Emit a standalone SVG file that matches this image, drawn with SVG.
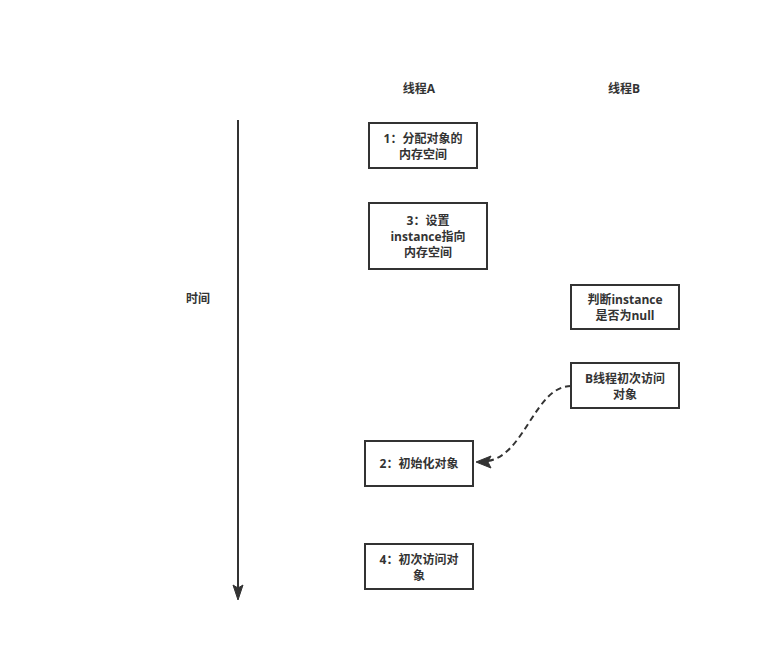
<svg xmlns="http://www.w3.org/2000/svg" width="767" height="660" viewBox="0 0 767 660">
<style>
.box{fill:#fff;stroke:#333;stroke-width:2}
text{font-family:"Open Sans","Noto Sans CJK SC",sans-serif;font-size:12px;font-weight:bold;fill:#333;text-anchor:middle}
.conn{fill:none;stroke:#333;stroke-width:2}
.head{fill:#333;stroke:#333;stroke-width:1;stroke-linejoin:miter}
</style>
<rect width="767" height="660" fill="#fff"/>
<text x="419" y="93">线程A</text>
<text x="624" y="93">线程B</text>
<text x="198" y="303">时间</text>
<g id="connectors">
<line class="conn" x1="238" y1="120" x2="238" y2="590"/>
<polygon class="head" points="233,585 238,600 243,585 238,588"/>
<path class="conn" stroke-dasharray="6,4" d="M571,386 C535,386 525,455 488,461"/>
<polygon class="head" points="476,462 491,456 488,462 491,468"/>
</g>
<g id="n1"><rect class="box" x="369" y="123" width="108" height="45"/><text x="423" y="143">1：分配对象的</text><text x="423" y="159">内存空间</text></g>
<g id="n3"><rect class="box" x="369" y="203" width="118" height="66"/><text x="428" y="225">3：设置</text><text x="428" y="241">instance指向</text><text x="428" y="257">内存空间</text></g>
<g id="nj"><rect class="box" x="571" y="285" width="108" height="44"/><text x="625" y="304">判断instance</text><text x="625" y="320">是否为null</text></g>
<g id="nb"><rect class="box" x="571" y="363" width="108" height="45"/><text x="625" y="383">B线程初次访问</text><text x="625" y="399">对象</text></g>
<g id="n2"><rect class="box" x="365" y="441" width="108" height="45"/><text x="419" y="468">2：初始化对象</text></g>
<g id="n4"><rect class="box" x="365" y="544" width="108" height="45"/><text x="419" y="564">4：初次访问对</text><text x="419" y="580">象</text></g>
</svg>
